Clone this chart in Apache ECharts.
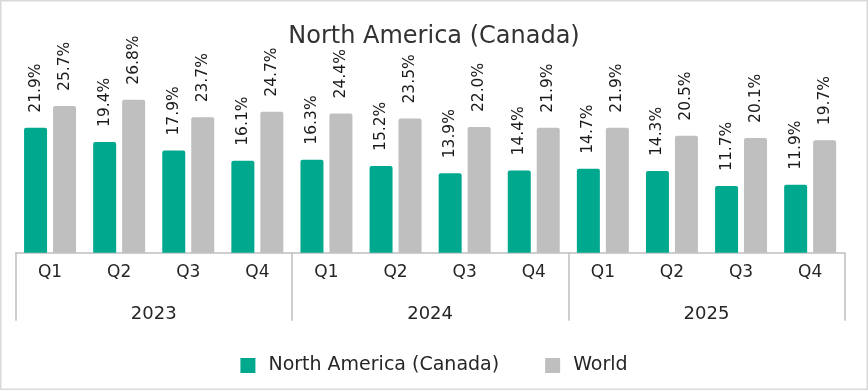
<!DOCTYPE html>
<html>
<head>
<meta charset="utf-8">
<script src="https://cdn.jsdelivr.net/npm/echarts@6/dist/echarts.min.js"></script>
<style>
html,body{margin:0;padding:0;background:#fff;}
#c{width:868px;height:390px;}
</style>
</head>
<body>
<div id="c"></div>
<script>
const quarters = ['Q1','Q2','Q3','Q4','Q1','Q2','Q3','Q4','Q1','Q2','Q3','Q4'];
const years = ['2023','2024','2025'];
const canada = [21.9, 19.4, 17.9, 16.1, 16.3, 15.2, 13.9, 14.4, 14.7, 14.3, 11.7, 11.9];
const world = [25.7, 26.8, 23.7, 24.7, 24.4, 23.5, 22.0, 21.9, 21.9, 20.5, 20.1, 19.7];
const seriesNames = ['North America (Canada)', 'World'];
const titleText = 'North America (Canada)';

const FONT = 'DejaVu Sans';
const chart = echarts.init(document.getElementById('c'), null, {renderer:'canvas'});
const lbl = {
  show: true, position: 'top', rotate: 90, align: 'left', verticalAlign: 'middle',
  distance: 15, fontFamily: FONT, fontSize: 15.5, color: '#1a1a1a',
  formatter: p => p.value.toFixed(1) + '%'
};
chart.setOption({
  animation: false,
  textStyle: {fontFamily: FONT},
  title: {text: titleText, left: 'center', top: 20,
    textStyle: {fontFamily: FONT, fontSize: 24, fontWeight: 'normal', color: '#333333'}},
  legend: {bottom: 10, left: 'center', itemWidth: 15, itemHeight: 15, itemGap: 46,
    icon: 'rect',
    textStyle: {fontFamily: FONT, fontSize: 19, color: '#262626', padding: [0,0,0,8]},
    data: seriesNames},
  grid: {left: 15.5, right: 23.3, top: 81.4, bottom: 137.3, containLabel: false},
  graphic: [{type: 'rect', shape: {x: 0.75, y: 0.75, width: 866.5, height: 388.5},
    style: {fill: 'none', stroke: '#d9d9d9', lineWidth: 1.5}, silent: true}],
  xAxis: [
    {type: 'category', data: quarters, gridIndex: 0, position: 'bottom',
      axisLine: {lineStyle: {color: '#bfbfbf', width: 1.5}},
      axisTick: {alignWithLabel: true, length: 7, lineStyle: {color: '#bfbfbf', width: 1.5}},
      axisLabel: {interval: 0, margin: 11, fontFamily: FONT, fontSize: 17, color: '#262626'}},
    {type: 'category', data: years, gridIndex: 0, position: 'bottom',
      axisLine: {show: false},
      axisTick: {show: true, interval: 0, length: 68, lineStyle: {color: '#bfbfbf', width: 1.5}},
      axisLabel: {interval: 0, margin: 53, fontFamily: FONT, fontSize: 18, color: '#262626'}}
  ],
  yAxis: {type: 'value', min: 0, max: 30, show: false, splitLine: {show: false}},
  series: [
    {name: seriesNames[0], type: 'bar', data: canada, barWidth: 23, barGap: '26%',
      itemStyle: {color: '#00a88e', borderRadius: [2,2,0,0]}, label: lbl},
    {name: seriesNames[1], type: 'bar', data: world, barWidth: 23,
      itemStyle: {color: '#bfbfbf', borderRadius: [2,2,0,0]}, label: lbl}
  ]
});
</script>
</body>
</html>
